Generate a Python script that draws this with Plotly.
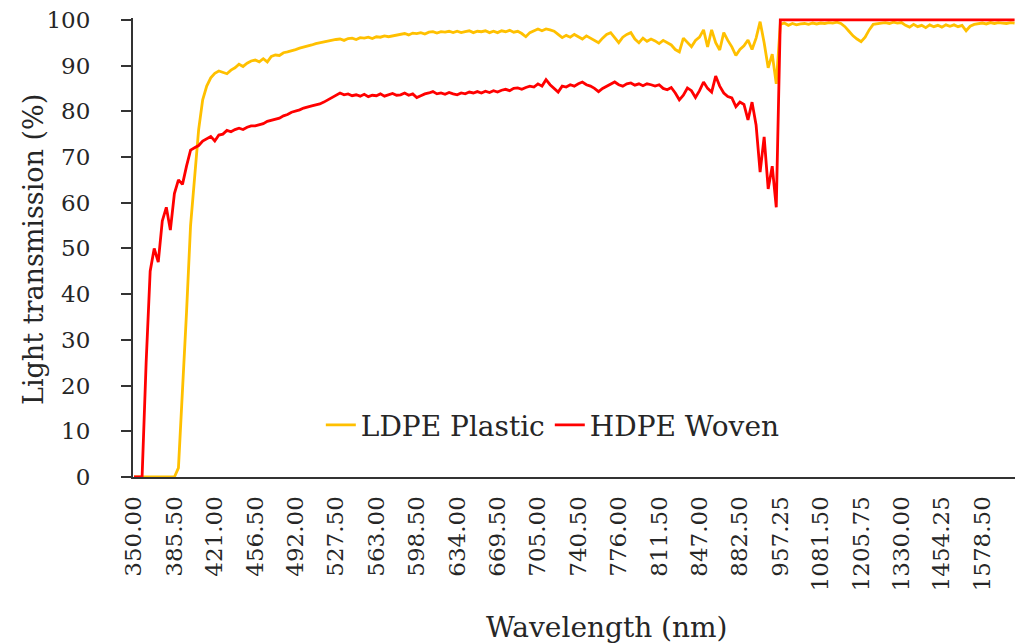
import plotly.graph_objects as go

# x-axis tick labels (category axis, nm)
TICK_WL = [350.00, 385.50, 421.00, 456.50, 492.00, 527.50, 563.00, 598.50, 634.00,
           669.50, 705.00, 740.50, 776.00, 811.50, 847.00, 882.50, 957.25, 1081.50,
           1205.75, 1330.00, 1454.25, 1578.50]

# sampled wavelengths: 10 categories between consecutive labels, plus the tail beyond the last label
wavelengths = []
for k in range(len(TICK_WL) - 1):
    step = (TICK_WL[k + 1] - TICK_WL[k]) / 10
    for j in range(10):
        wavelengths.append(TICK_WL[k] + j * step)
tail_step = (TICK_WL[-1] - TICK_WL[-2]) / 10
for j in range(9):
    wavelengths.append(TICK_WL[-1] + j * tail_step)
categories = ["%.2f" % w for w in wavelengths]
tick_cats = ["%.2f" % w for w in TICK_WL]

LDPE = [
    0, 0, 0, 0, 0, 0, 0, 0, 0, 0,
    0, 2, 18, 36, 55, 65, 76, 82.5, 85.5, 87.3,
    88.3, 88.8, 88.5, 88.2, 89, 89.5, 90.3, 89.8, 90.5, 91,
    91.2, 90.8, 91.5, 90.8, 92, 92.3, 92.2, 92.8, 93, 93.2,
    93.5, 93.8, 94, 94.2, 94.5, 94.8, 95, 95.2, 95.4, 95.5,
    95.7, 95.8, 95.5, 95.9, 96, 95.7, 96.1, 96, 96.2, 95.9,
    96.3, 96.2, 96.5, 96.3, 96.5, 96.7, 96.8, 97, 96.7, 97.1,
    97, 97.2, 96.9, 97.3, 97.4, 97.1, 97.4, 97.3, 97.5, 97.2,
    97.5, 97.2, 97.4, 97.6, 97.2, 97.5, 97.4, 97.6, 97.2, 97.5,
    97.2, 97.6, 97.4, 97.7, 97.3, 97.5, 97, 96.3, 97.2, 97.6,
    98, 97.6, 98, 97.8, 97.5, 96.8, 96.1, 96.6, 96.2, 96.8,
    96.3, 95.8, 96.5, 96, 95.4, 95, 96, 96.8, 97.2, 96,
    95, 96.2, 96.8, 97.2, 95.8, 95, 96, 95.3, 95.8, 95.4,
    94.8, 95.5, 95, 94.5, 93.5, 93, 96, 95, 94.1, 95.5,
    96.2, 97.8, 94.1, 97.8, 95, 93.4, 97.2, 95.5, 94.1, 92.2,
    93.5, 94.3, 95.6, 93.5, 96, 99.6, 95, 89.5, 92.5, 86,
    99, 99.3, 98.8, 99.2, 98.9, 99.1, 99.2, 99, 99.3, 99.1,
    99.3, 99.2, 99.4, 99.3, 99.5, 99.2, 98.5, 97.5, 96.5, 95.8,
    95.2, 96.2, 97.8, 99, 99.2, 99.3, 99.4, 99.2, 99.5, 99.3,
    99.4, 98.8, 98.4, 99, 98.5, 98.8, 98.3, 98.9, 98.5, 98.8,
    98.4, 98.9, 98.6, 98.9, 98.5, 98.8, 97.6, 98.6, 99, 99.2,
    99.3, 99.1, 99.4, 99.2, 99.4, 99.3, 99.2, 99.4, 99.3,
]

HDPE = [
    0, 0, 0, 25, 45, 50, 47, 56, 59, 54,
    62, 65, 64, 68, 71.5, 72, 72.5, 73.5, 74, 74.5,
    73.5, 74.8, 75, 75.8, 75.5, 76, 76.3, 76, 76.5, 76.8,
    76.8, 77, 77.3, 77.8, 78, 78.3, 78.5, 79, 79.3, 79.8,
    80, 80.3, 80.7, 81, 81.2, 81.4, 81.6, 82, 82.5, 83,
    83.6, 84, 83.6, 83.8, 83.4, 83.6, 83.3, 83.7, 83.2, 83.5,
    83.4, 83.8, 83.3, 83.6, 83.9, 83.5, 83.6, 84, 83.5, 83.8,
    83, 83.4, 83.8, 84, 84.3, 83.8, 84, 83.7, 84.1, 83.8,
    83.6, 84, 83.8, 84.2, 84, 84.3, 84, 84.4, 84.1, 84.5,
    84.2, 84.6, 84.8, 84.5, 85, 85.1, 84.8, 85.2, 85.5, 85.3,
    86, 85.5, 86.9, 85.8, 85, 84.2, 85.5, 85.3, 85.8, 85.5,
    86, 86.4, 85.8, 85.5, 85, 84.3, 85, 85.5, 86, 86.4,
    85.8, 85.5, 86, 86.2, 85.7, 86, 85.6, 86, 85.8, 85.5,
    85.8, 85, 84.7, 85.2, 84, 82.5, 83.5, 85.1, 84.5, 83,
    84.5, 86.4, 85, 84.2, 87.7, 85.5, 84, 83.2, 82.9, 81,
    82, 81.5, 78.1, 82, 77, 66.7, 74.4, 63, 68, 59,
    100, 100, 100, 100, 100, 100, 100, 100, 100, 100,
    100, 100, 100, 100, 100, 100, 100, 100, 100, 100,
    100, 100, 100, 100, 100, 100, 100, 100, 100, 100,
    100, 100, 100, 100, 100, 100, 100, 100, 100, 100,
    100, 100, 100, 100, 100, 100, 100, 100, 100, 100,
    100, 100, 100, 100, 100, 100, 100, 100, 100,
]

FONT = "DejaVu Serif"
TXT = "#262626"

fig = go.Figure()
fig.add_trace(go.Scatter(x=categories, y=LDPE, mode="lines", name="LDPE Plastic",
                         line=dict(color="#FFC000", width=2.8)))
fig.add_trace(go.Scatter(x=categories, y=HDPE, mode="lines", name="HDPE Woven",
                         line=dict(color="#FF0000", width=2.8)))

fig.update_layout(
    width=1015, height=644,
    margin=dict(l=133, r=0, t=18, b=167),
    paper_bgcolor="white", plot_bgcolor="white",
    font=dict(family=FONT, color=TXT),
    showlegend=True,
    legend=dict(orientation="h", x=0.476, y=0.113, xanchor="center", yanchor="middle",
                font=dict(size=28, family=FONT, color=TXT), bgcolor="rgba(0,0,0,0)",
                itemwidth=30),
    xaxis=dict(
        type="category", categoryorder="array", categoryarray=categories,
        range=[-0.25, 218.1],
        tickmode="array", tickvals=tick_cats, ticktext=tick_cats,
        tickangle=-90, ticks="", showgrid=False, zeroline=False,
        showline=True, linecolor="#333333", linewidth=2,
        tickfont=dict(size=23, family=FONT, color=TXT),
        ticklabelstandoff=8,
        automargin=False,
    ),
    yaxis=dict(
        range=[0, 100.4], tickmode="array", tickvals=list(range(0, 101, 10)),
        ticks="outside", ticklen=10, tickwidth=2, tickcolor="#333333",
        showgrid=False, zeroline=False,
        showline=True, linecolor="#333333", linewidth=2,
        tickfont=dict(size=23, family=FONT, color=TXT),
        ticklabelstandoff=26,
        automargin=False,
    ),
    annotations=[
        dict(text="Wavelength (nm)", xref="paper", yref="paper",
             x=(607 - 133) / 882, y=(477 - 627) / 459, xanchor="center", yanchor="middle",
             showarrow=False, font=dict(size=28, family=FONT, color=TXT)),
        dict(text="Light transmission (%)", xref="paper", yref="paper", textangle=-90,
             x=(33 - 133) / 882, y=(477 - 250) / 459, xanchor="center", yanchor="middle",
             showarrow=False, font=dict(size=27, family=FONT, color=TXT)),
    ],
)

fig.write_html("out.html")
